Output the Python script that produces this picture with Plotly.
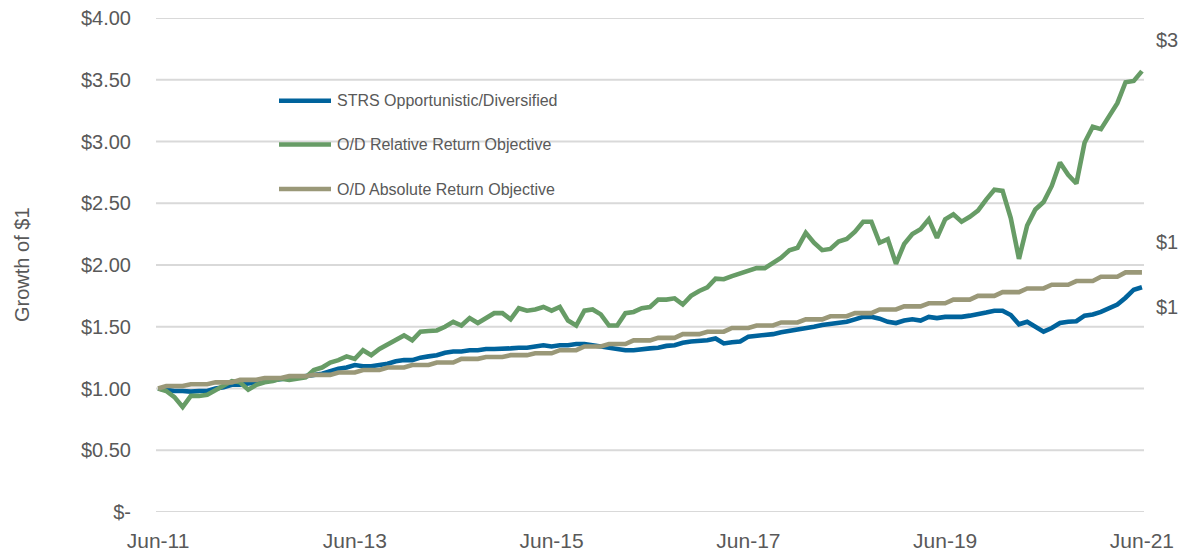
import pandas as pd
import plotly.graph_objects as go

# Monthly month-end observations, Jun-2011 through Jun-2021
months = pd.period_range("2011-06", "2021-06", freq="M").strftime("%b-%y").tolist()

strs_od = [
    1.00, 0.99, 0.98, 0.98, 0.975, 0.98, 0.98, 1.00, 1.01, 1.03, 1.03, 1.04,
    1.05, 1.055, 1.065, 1.08, 1.085, 1.09, 1.10, 1.11, 1.12, 1.14, 1.16, 1.17,
    1.19, 1.18, 1.18, 1.19, 1.20, 1.22, 1.23, 1.23, 1.25, 1.26, 1.27, 1.29,
    1.30, 1.30, 1.31, 1.31, 1.32, 1.32, 1.32, 1.325, 1.33, 1.33, 1.34, 1.35,
    1.34, 1.35, 1.35, 1.36, 1.36, 1.35, 1.34, 1.33, 1.32, 1.31, 1.31, 1.32,
    1.325, 1.33, 1.345, 1.35, 1.37, 1.38, 1.385, 1.39, 1.405, 1.365, 1.375, 1.38,
    1.42, 1.425, 1.43, 1.44, 1.455, 1.465, 1.48, 1.49, 1.50, 1.515, 1.525, 1.53,
    1.54, 1.56, 1.58, 1.58, 1.565, 1.54, 1.53, 1.55, 1.56, 1.55, 1.58, 1.57,
    1.58, 1.58, 1.58, 1.59, 1.60, 1.615, 1.63, 1.63, 1.595, 1.52, 1.54, 1.50,
    1.46, 1.49, 1.53, 1.54, 1.545, 1.59, 1.60, 1.62, 1.65, 1.68, 1.735, 1.80,
    1.82,
]

relative_obj = [
    1.00, 0.98, 0.93, 0.85, 0.94, 0.94, 0.95, 0.99, 1.03, 1.06, 1.05, 0.99,
    1.03, 1.05, 1.06, 1.08, 1.07, 1.08, 1.09, 1.15, 1.17, 1.21, 1.23, 1.26,
    1.24, 1.31, 1.27, 1.32, 1.36, 1.40, 1.43, 1.39, 1.46, 1.465, 1.47, 1.50,
    1.54, 1.51, 1.57, 1.53, 1.57, 1.61, 1.61, 1.56, 1.65, 1.63, 1.64, 1.66,
    1.63, 1.66, 1.55, 1.51, 1.63, 1.64, 1.60, 1.51, 1.51, 1.61, 1.62, 1.65,
    1.66, 1.72, 1.72, 1.73, 1.68, 1.75, 1.79, 1.82, 1.89, 1.885, 1.91, 1.93,
    1.95, 1.975, 1.975, 2.02, 2.06, 2.12, 2.14, 2.26, 2.18, 2.12, 2.13, 2.19,
    2.21, 2.27, 2.35, 2.35, 2.18, 2.21, 2.01, 2.17, 2.25, 2.29, 2.37, 2.22,
    2.37, 2.41, 2.35, 2.39, 2.44, 2.53, 2.61, 2.60, 2.38, 2.05, 2.32, 2.45,
    2.51, 2.64, 2.83, 2.73, 2.66, 2.99, 3.12, 3.10, 3.20, 3.31, 3.48, 3.49,
    3.57,
]

absolute_obj = [
    1.00, 1.02, 1.02, 1.02, 1.035, 1.035, 1.035, 1.05, 1.05, 1.05, 1.07, 1.07,
    1.07, 1.085, 1.085, 1.085, 1.10, 1.10, 1.10, 1.11, 1.11, 1.11, 1.13, 1.13,
    1.13, 1.15, 1.15, 1.15, 1.17, 1.17, 1.17, 1.19, 1.19, 1.19, 1.21, 1.21,
    1.21, 1.24, 1.24, 1.24, 1.255, 1.255, 1.255, 1.27, 1.27, 1.27, 1.285, 1.285,
    1.285, 1.31, 1.31, 1.31, 1.34, 1.34, 1.34, 1.36, 1.36, 1.36, 1.39, 1.39,
    1.39, 1.41, 1.41, 1.41, 1.44, 1.44, 1.44, 1.46, 1.46, 1.46, 1.49, 1.49,
    1.49, 1.51, 1.51, 1.51, 1.535, 1.535, 1.535, 1.56, 1.56, 1.56, 1.585, 1.585,
    1.585, 1.61, 1.61, 1.61, 1.64, 1.64, 1.64, 1.665, 1.665, 1.665, 1.69, 1.69,
    1.69, 1.72, 1.72, 1.72, 1.75, 1.75, 1.75, 1.78, 1.78, 1.78, 1.81, 1.81,
    1.81, 1.84, 1.84, 1.84, 1.87, 1.87, 1.87, 1.905, 1.905, 1.905, 1.94, 1.94,
    1.94,
]

series_names = [
    "STRS Opportunistic/Diversified",
    "O/D Relative Return Objective",
    "O/D Absolute Return Objective",
]
series_values = [strs_od, relative_obj, absolute_obj]
series_colors = ["#00639c", "#679c66", "#9a9878"]

y_tickvals = [0, 0.5, 1.0, 1.5, 2.0, 2.5, 3.0, 3.5, 4.0]
y_ticktext = ["$-", "$0.50", "$1.00", "$1.50", "$2.00", "$2.50", "$3.00", "$3.50", "$4.00"]
x_tick_labels = ["Jun-11", "Jun-13", "Jun-15", "Jun-17", "Jun-19", "Jun-21"]

# end-of-period labels (whole-dollar part): vertical anchor for each label
end_label_y = [1.66, 3.82, 2.19]

W, H = 1178, 553
ML, MR, MT, MB = 156, 34, 18, 41
PW, PH = W - ML - MR, H - MT - MB
FONT = "Arial, Liberation Sans, sans-serif"
GREY = "#595959"
GRID = "#d9d9d9"


def px_x(p):
    return (p - ML) / PW


def px_y(p):
    return (H - MB - p) / PH


fig = go.Figure()
for name, vals, col in zip(series_names, series_values, series_colors):
    fig.add_trace(go.Scatter(
        x=months, y=vals, mode="lines", name=name,
        line=dict(color=col, width=4.6, shape="linear"),
        showlegend=False, hoverinfo="x+y",
    ))

shapes = []
annotations = []

# horizontal gridlines at each value tick, beneath the series
for v in y_tickvals:
    shapes.append(dict(type="line", xref="paper", yref="y", layer="below",
                       x0=0, x1=1, y0=v, y1=v,
                       line=dict(color=GRID, width=2)))

# hand-placed legend
legend_rows_px = [100.7, 144.5, 189]
for name, col, ypx in zip(series_names, series_colors, legend_rows_px):
    shapes.append(dict(type="line", xref="paper", yref="paper",
                       x0=px_x(279), x1=px_x(331), y0=px_y(ypx), y1=px_y(ypx),
                       line=dict(color=col, width=4.6)))
    annotations.append(dict(xref="paper", yref="paper", x=px_x(335), y=px_y(ypx),
                            xanchor="left", yanchor="middle", showarrow=False,
                            text=name, font=dict(family=FONT, size=16, color=GREY)))

for vals, ly in zip(series_values, end_label_y):
    annotations.append(dict(xref="paper", yref="y", x=px_x(1154), y=ly,
                            xanchor="left", yanchor="middle", showarrow=False,
                            text=f"${int(vals[-1])}",
                            font=dict(family=FONT, size=20, color=GREY)))

annotations.append(dict(xref="paper", yref="paper", x=px_x(22), y=0.5,
                        xanchor="center", yanchor="middle", showarrow=False,
                        textangle=-90, text="Growth of $1",
                        font=dict(family=FONT, size=20, color=GREY)))

fig.update_layout(
    width=W, height=H,
    margin=dict(l=ML, r=MR, t=MT, b=MB, pad=0, autoexpand=False),
    paper_bgcolor="white", plot_bgcolor="white",
    font=dict(family=FONT, color=GREY),
    shapes=shapes, annotations=annotations,
    showlegend=False,
)
fig.update_xaxes(
    type="category", range=[-0.25, len(months) - 0.75], automargin=False,
    tickmode="array", tickvals=x_tick_labels, ticktext=x_tick_labels,
    showgrid=False, zeroline=False, showline=False, ticks="",
    tickfont=dict(family=FONT, size=21, color=GREY),
    ticklabelstandoff=14,
)
fig.update_yaxes(
    range=[0, 4], automargin=False,
    tickmode="array", tickvals=y_tickvals, ticktext=y_ticktext,
    showgrid=False, zeroline=False, showline=False, ticks="",
    tickfont=dict(family=FONT, size=20, color=GREY),
    ticklabelstandoff=24,
)

fig.write_html("out.html")
